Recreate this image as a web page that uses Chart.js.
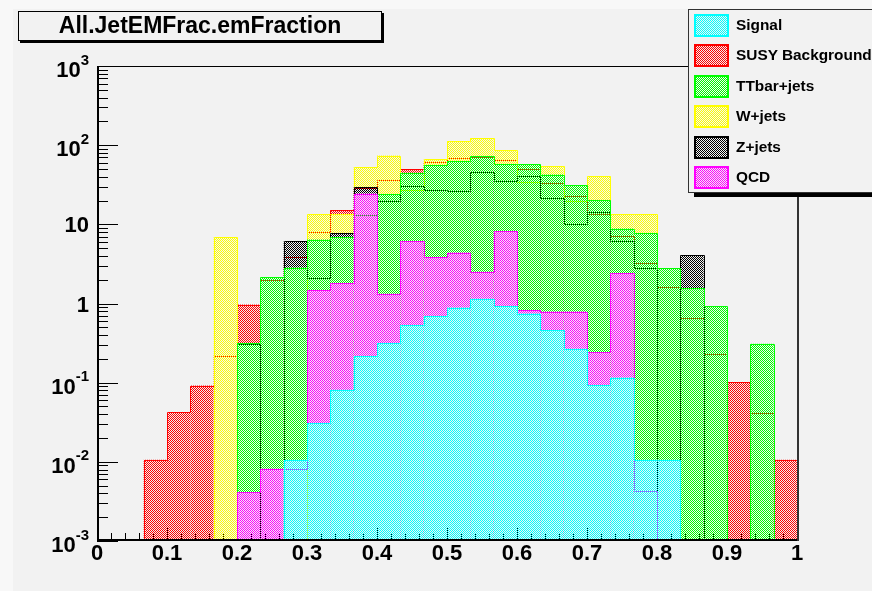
<!DOCTYPE html>
<html>
<head>
<meta charset="utf-8">
<title>All.JetEMFrac.emFraction</title>
<script src="https://cdn.jsdelivr.net/npm/chart.js@4.4.1/dist/chart.umd.min.js"></script>
<style>
  html, body { margin: 0; padding: 0; }
  body {
    width: 872px; height: 591px; overflow: hidden; position: relative;
    background: #f8f8f8;
    font-family: "Liberation Sans", Arial, Helvetica, sans-serif; font-weight: bold; color: #000;
  }
  #pad { position: absolute; left: 13px; top: 9px; right: 0; bottom: 0; background: #f2f2f2; }
  #chart { position: absolute; left: 0; top: 0; }
  #title {
    position: absolute; left: 18px; top: 11px; width: 362px; height: 28px;
    border: 1px solid #000; box-shadow: 2px 2px 0 #000; background: #f2f2f2;
    font-size: 23px; line-height: 27px; text-align: center; white-space: nowrap;
  }
  #legend {
    position: absolute; left: 688px; top: 9px; width: 200px; height: 182px;
    border: 1px solid #333; box-shadow: 6px 4px 0 #000; background: #f2f2f2;
  }
  .entry { position: absolute; left: 5px; width: 190px; height: 23px; }
  .swatch {
    position: absolute; left: 0; top: 0; width: 31px; height: 19px;
    border: 2px solid; background-size: 2px 2px; image-rendering: pixelated;
  }
  .label { position: absolute; left: 42px; top: -1px; font-size: 15.4px; line-height: 23px; white-space: nowrap; }
</style>
</head>
<body>
<div id="pad"></div>
<canvas id="chart" width="872" height="591"></canvas>
<div id="title">All.JetEMFrac.emFraction</div>
<div id="legend"></div>

<script>
// binning of the emFraction histogram
const nBins = 30;
const xMin = 0;
const xMax = 1;

// x axis labels
const xTickValues = [0, 0.1, 0.2, 0.3, 0.4, 0.5, 0.6, 0.7, 0.8, 0.9, 1];
const xTickLabels = ['0', '0.1', '0.2', '0.3', '0.4', '0.5', '0.6', '0.7', '0.8', '0.9', '1'];

// y axis (log) labels: base + exponent
const yTickValues = [0.001, 0.01, 0.1, 1, 10, 100, 1000];
const yTickBases = ['10', '10', '10', '1', '10', '10', '10'];
const yTickExps = ['-3', '-2', '-1', '', '', '2', '3'];

// bin contents, as plotted
const signalVals = [0, 0, 0, 0, 0, 0, 0, 0, 0.0106, 0.031, 0.0815, 0.215, 0.317, 0.53, 0.69,
  0.887, 1.15, 0.93, 0.745, 0.458, 0.269, 0.0925, 0.116, 0.0106, 0.0106, 0, 0, 0, 0, 0];
const susyVals = [0, 0, 0.0106, 0.042, 0.092, 0.22, 0.97, 2.0, 3.9, 7.9, 15.1, 29, 36.8, 49.8, 61.5,
  69, 70, 64.5, 49.3, 33.7, 22.6, 13.5, 7.1, 3.25, 1.62, 0.66, 0.23, 0.102, 0.041, 0.0106];
const ttbarVals = [0, 0, 0, 0, 0, 0, 0.317, 2.16, 2.84, 6.43, 6.93, 13.3, 24.0, 44.7, 55.9,
  62.8, 72, 57, 57, 42.5, 31.5, 20.2, 8.85, 7.8, 2.81, 1.55, 0.92, 0, 0.311, 0];
const wjetsVals = [0, 0, 0, 0, 0, 6.9, 0, 0, 0, 13.4, 13.4, 53, 74, 27, 66.6,
  112, 121.5, 86.4, 34, 53.8, 20, 40.9, 13.4, 13.4, 0, 0, 0, 0, 0, 0];
const zjetsVals = [0, 0, 0, 0, 0, 0, 0.31, 0, 6.1, 2.07, 7.8, 29.2, 19.8, 30.3, 27.0,
  26.2, 45.5, 35.4, 40.9, 21.8, 10.2, 14.5, 6.1, 2.8, 0, 4.07, 0, 0, 0, 0];
const qcdVals = [0, 0, 0, 0, 0, 0, 0.0041, 0.0082, 0.0082, 1.46, 1.82, 24.5, 1.33, 6.15, 3.87,
  4.4, 2.52, 8.2, 0.82, 0.79, 0.79, 0.244, 2.42, 0.0043, 0, 0, 0, 0, 0, 0];

const seriesNames = ['Signal', 'SUSY Background', 'TTbar+jets', 'W+jets', 'Z+jets', 'QCD'];
const seriesValues = [signalVals, susyVals, ttbarVals, wjetsVals, zjetsVals, qcdVals];
const seriesColors = ['#00ffff', '#ff0000', '#00ff00', '#ffff00', '#000000', '#ff00ff'];
// chart.js paints the highest order first; signal ends up on top
const drawOrder = [1, 6, 3, 5, 4, 2];

const binWidth = (xMax - xMin) / nBins;
const binCenters = Array.from({ length: nBins }, (_, i) => xMin + (i + 0.5) * binWidth);

// ROOT-like 50% dot fill: colour on every other pixel, background shows through
function patternTile(color) {
    const c = document.createElement('canvas');
    c.width = 2;
    c.height = 2;
    const g = c.getContext('2d');
    g.fillStyle = color;
    g.fillRect(0, 0, 1, 1);
    g.fillRect(1, 1, 1, 1);
    return c;
}

const canvas = document.getElementById('chart');
const ctx = canvas.getContext('2d');

// legend box
const legendEl = document.getElementById('legend');
seriesNames.forEach((name, k) => {
    const entry = document.createElement('div');
    entry.className = 'entry';
    entry.style.top = (3.5 + 30.5 * k) + 'px';
    const sw = document.createElement('div');
    sw.className = 'swatch';
    sw.style.borderColor = seriesColors[k];
    sw.style.backgroundImage = `url(${patternTile(seriesColors[k]).toDataURL()})`;
    const lab = document.createElement('div');
    lab.className = 'label';
    lab.textContent = name;
    entry.appendChild(sw);
    entry.appendChild(lab);
    legendEl.appendChild(entry);
});

// tick marks sit under the fills, like in the original
const axisTicks = {
    id: 'axisTicks',
    beforeDatasetsDraw(chart) {
        const { ctx, chartArea: a, scales: { x, y } } = chart;
        ctx.save();
        ctx.strokeStyle = '#000';
        ctx.lineWidth = 1;
        ctx.beginPath();
        for (let e = -3; e <= 3; e++) {
            for (let m = 1; m < 10; m++) {
                if (e === 3 && m > 1) break;
                const py = Math.round(y.getPixelForValue(m * Math.pow(10, e))) + 0.5;
                const len = m === 1 ? 21 : 11;
                ctx.moveTo(a.left, py);
                ctx.lineTo(a.left + len, py);
            }
        }
        for (let k = 0; k <= 50; k++) {
            const px = Math.round(x.getPixelForValue(xMin + k * 0.02)) + 0.5;
            const len = k % 5 === 0 ? 13 : 8;
            ctx.moveTo(px, a.bottom);
            ctx.lineTo(px, a.bottom - len);
        }
        ctx.stroke();
        ctx.restore();
    }
};

// histogram outline drawn right after its own fill, so later fills dot it over
const histOutline = {
    id: 'histOutline',
    afterDatasetDraw(chart, args) {
        const ds = chart.data.datasets[args.index];
        const { ctx, chartArea: a, scales: { x, y } } = chart;
        const vals = ds.hist;
        const base = a.bottom - 0.5;
        const py = v => (v > 0 ? Math.round(y.getPixelForValue(v)) + 0.5 : null);
        const px = i => Math.round(x.getPixelForValue(xMin + i * binWidth)) + 0.5;
        ctx.save();
        ctx.beginPath();
        ctx.rect(a.left, a.top, a.right - a.left, a.bottom - a.top);
        ctx.clip();
        ctx.strokeStyle = ds.lineColor;
        ctx.lineWidth = 1;
        ctx.beginPath();
        let cur = null;
        for (let i = 0; i < nBins; i++) {
            const yy = py(vals[i]);
            const xl = px(i);
            const xr = px(i + 1);
            if (yy !== cur) {
                ctx.moveTo(xl, cur === null ? base : cur);
                ctx.lineTo(xl, yy === null ? base : yy);
            }
            if (yy !== null) {
                ctx.moveTo(xl, yy);
                ctx.lineTo(xr, yy);
            }
            cur = yy;
        }
        if (cur !== null) {
            ctx.moveTo(px(nBins), cur);
            ctx.lineTo(px(nBins), base);
        }
        ctx.stroke();
        ctx.restore();
    }
};

// frame and axis labels
const frameAndLabels = {
    id: 'frameAndLabels',
    afterDatasetsDraw(chart) {
        const { ctx, chartArea: a, scales: { x, y } } = chart;
        ctx.save();
        ctx.strokeStyle = '#000';
        ctx.lineWidth = 1;
        ctx.beginPath();
        ctx.moveTo(a.left, a.top + 0.5);
        ctx.lineTo(a.right, a.top + 0.5);
        ctx.stroke();
        ctx.lineWidth = 2;
        ctx.beginPath();
        ctx.moveTo(a.left + 1, a.top);
        ctx.lineTo(a.left + 1, a.bottom);
        ctx.moveTo(a.left, a.bottom - 1);
        ctx.lineTo(a.right + 2, a.bottom - 1);
        ctx.stroke();
        ctx.strokeStyle = '#333';
        ctx.beginPath();
        ctx.moveTo(a.right + 1, a.top);
        ctx.lineTo(a.right + 1, a.bottom);
        ctx.stroke();

        ctx.fillStyle = '#000';
        ctx.font = 'bold 22px "Liberation Sans", Arial, sans-serif';
        ctx.textAlign = 'center';
        ctx.textBaseline = 'alphabetic';
        xTickValues.forEach((v, i) => {
            ctx.fillText(xTickLabels[i], x.getPixelForValue(v), a.bottom + 19);
        });

        const labelRight = a.left - 8;
        yTickValues.forEach((v, i) => {
            const exp = yTickExps[i];
            const pyv = y.getPixelForValue(v);
            ctx.font = 'bold 15px "Liberation Sans", Arial, sans-serif';
            const we = exp ? ctx.measureText(exp).width : 0;
            const baseline = pyv + (exp ? 3 : 0) + 8;
            ctx.font = 'bold 22px "Liberation Sans", Arial, sans-serif';
            ctx.textAlign = 'right';
            ctx.fillText(yTickBases[i], labelRight - we, baseline);
            if (exp) {
                ctx.font = 'bold 15px "Liberation Sans", Arial, sans-serif';
                ctx.textAlign = 'left';
                ctx.fillText(exp, labelRight - we, baseline - 12.5);
            }
        });
        ctx.restore();
    }
};

const datasets = seriesNames.map((name, k) => ({
    label: name,
    data: seriesValues[k].map((v, i) => ({ x: binCenters[i], y: v > 0 ? v : null })),
    hist: seriesValues[k],
    lineColor: seriesColors[k],
    backgroundColor: ctx.createPattern(patternTile(seriesColors[k]), 'repeat'),
    borderWidth: 0,
    inflateAmount: 0,
    grouped: false,
    barPercentage: 1,
    categoryPercentage: 1,
    order: drawOrder[k]
}));

new Chart(canvas, {
    type: 'bar',
    data: { datasets },
    options: {
        responsive: false,
        animation: false,
        devicePixelRatio: 1,
        events: [],
        layout: { padding: { left: 97, right: 75, top: 66, bottom: 50 } },
        plugins: { legend: { display: false }, tooltip: { enabled: false } },
        scales: {
            x: { type: 'linear', min: xMin, max: xMax, offset: false, display: false, ticks: { stepSize: 0.1 } },
            y: { type: 'logarithmic', min: 0.001, max: 1000, display: false }
        }
    },
    plugins: [axisTicks, histOutline, frameAndLabels]
});
</script>
</body>
</html>
